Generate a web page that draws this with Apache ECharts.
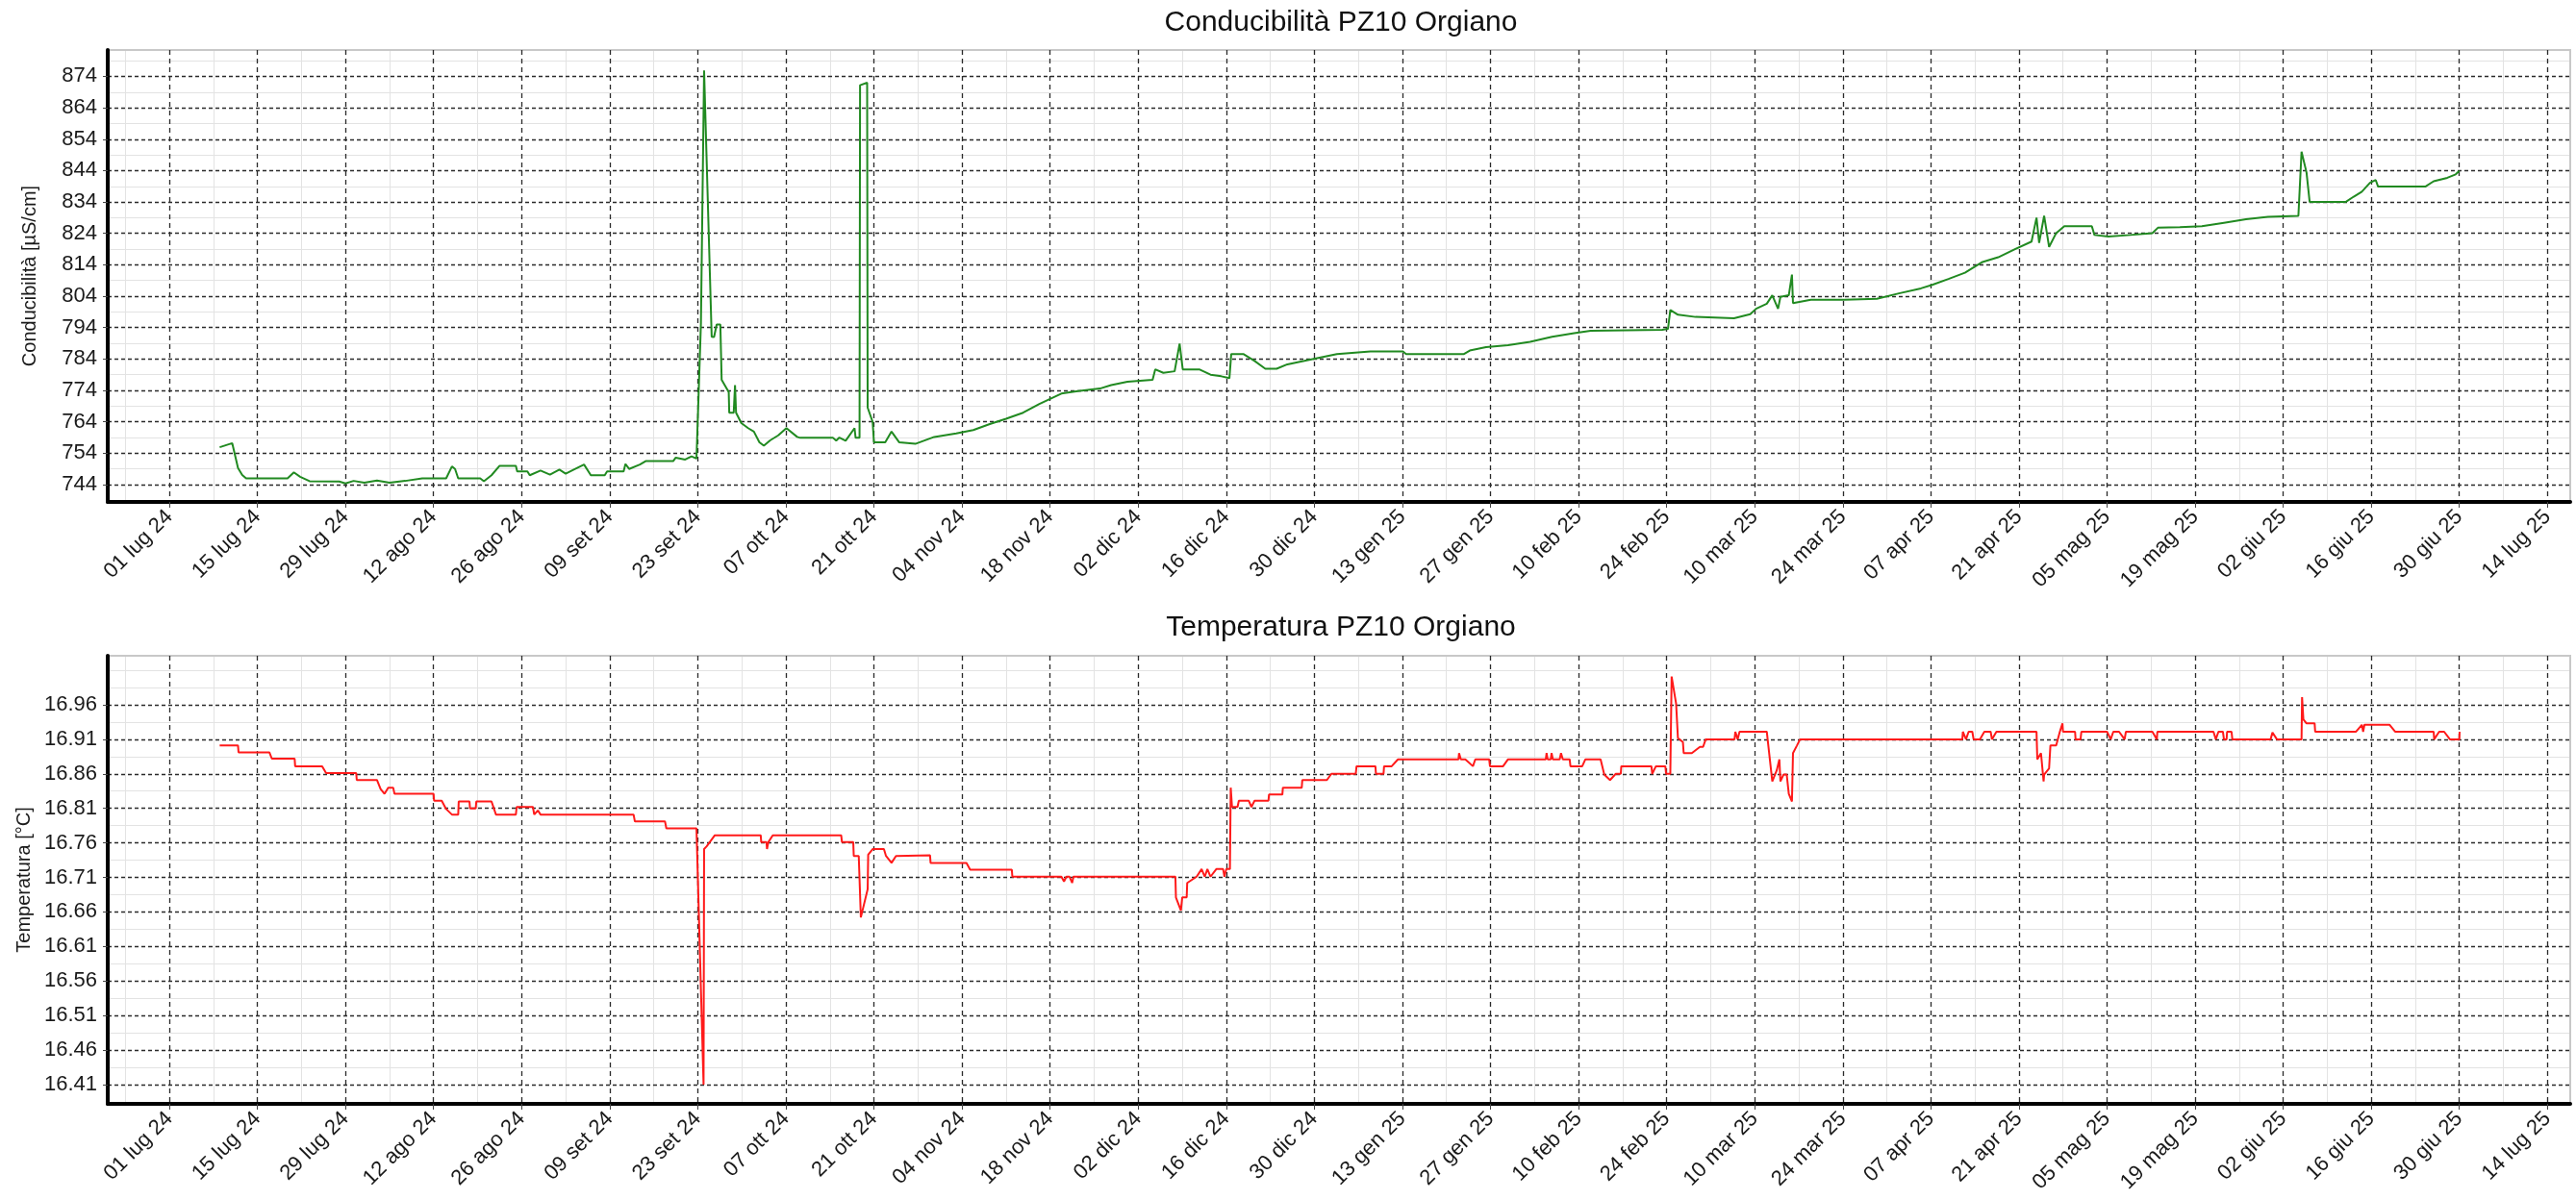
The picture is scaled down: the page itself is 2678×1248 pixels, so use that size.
<!DOCTYPE html>
<html>
<head>
<meta charset="utf-8">
<script src="https://cdn.jsdelivr.net/npm/echarts@6/dist/echarts.min.js"></script>
<style>
  html, body { margin: 0; padding: 0; background: #ffffff; }
  #chart { width: 2678px; height: 1248px; }
</style>
</head>
<body>
<div id="chart"></div>
<script>
// Conductivity readings, PZ10 Orgiano (µS/cm)
const condDates = [
  '2024-07-09 00:00','2024-07-11 00:00','2024-07-11 22:00','2024-07-12 14:00','2024-07-13 05:00','2024-07-19 19:00','2024-07-20 19:00','2024-07-21 19:00','2024-07-23 07:00','2024-07-28 00:00',
  '2024-07-29 00:00','2024-07-30 07:00','2024-08-01 00:00','2024-08-03 00:00','2024-08-05 00:00','2024-08-07 12:00','2024-08-10 05:00','2024-08-14 00:00','2024-08-14 22:00','2024-08-15 10:00',
  '2024-08-15 22:00','2024-08-19 10:00','2024-08-20 00:00','2024-08-21 05:00','2024-08-22 12:00','2024-08-25 02:00','2024-08-25 07:00','2024-08-26 22:00','2024-08-27 07:00','2024-08-29 00:00',
  '2024-08-30 12:00','2024-09-01 00:00','2024-09-02 00:00','2024-09-03 07:00','2024-09-04 22:00','2024-09-06 00:00','2024-09-08 05:00','2024-09-08 14:00','2024-09-11 05:00','2024-09-11 12:00',
  '2024-09-12 02:00','2024-09-13 19:00','2024-09-14 17:00','2024-09-19 02:00','2024-09-19 12:00','2024-09-21 00:00','2024-09-22 00:00','2024-09-22 19:00','2024-09-23 12:00','2024-09-24 00:00',
  '2024-09-25 05:00','2024-09-25 14:00','2024-09-26 00:00','2024-09-26 14:00','2024-09-26 19:00','2024-09-27 22:00','2024-09-28 00:00','2024-09-28 17:00','2024-09-28 22:00','2024-09-29 02:00',
  '2024-09-29 22:00','2024-10-01 00:00','2024-10-01 22:00','2024-10-02 19:00','2024-10-03 12:00','2024-10-04 12:00','2024-10-05 19:00','2024-10-07 02:00','2024-10-08 19:00','2024-10-09 07:00',
  '2024-10-14 12:00','2024-10-15 00:00','2024-10-15 12:00','2024-10-16 12:00','2024-10-17 22:00','2024-10-18 02:00','2024-10-18 17:00','2024-10-18 19:00','2024-10-19 22:00','2024-10-20 00:00',
  '2024-10-20 19:00','2024-10-21 00:00','2024-10-22 19:00','2024-10-23 19:00','2024-10-25 00:00','2024-10-27 14:00','2024-10-30 14:00','2024-11-03 02:00','2024-11-05 19:00','2024-11-08 10:00',
  '2024-11-11 00:00','2024-11-13 17:00','2024-11-16 07:00','2024-11-18 00:00','2024-11-19 19:00','2024-11-22 10:00','2024-11-25 22:00','2024-11-27 17:00','2024-11-30 07:00','2024-12-04 07:00',
  '2024-12-04 17:00','2024-12-06 00:00','2024-12-07 19:00','2024-12-08 14:00','2024-12-09 02:00','2024-12-11 17:00','2024-12-13 12:00','2024-12-15 05:00','2024-12-16 12:00','2024-12-16 19:00',
  '2024-12-18 17:00','2024-12-20 12:00','2024-12-22 05:00','2024-12-24 00:00','2024-12-25 17:00','2024-12-28 10:00','2024-12-31 00:00','2025-01-02 14:00','2025-01-07 22:00','2025-01-13 02:00',
  '2025-01-13 14:00','2025-01-22 19:00','2025-01-23 17:00','2025-01-26 07:00','2025-01-29 19:00','2025-02-02 07:00','2025-02-05 19:00','2025-02-09 07:00','2025-02-11 22:00','2025-02-23 07:00',
  '2025-02-24 05:00','2025-02-24 14:00','2025-02-25 19:00','2025-02-28 14:00','2025-03-06 17:00','2025-03-09 07:00','2025-03-10 05:00','2025-03-11 22:00','2025-03-12 19:00','2025-03-13 17:00',
  '2025-03-14 02:00','2025-03-15 10:00','2025-03-15 22:00','2025-03-16 02:00','2025-03-18 22:00','2025-03-24 05:00','2025-03-29 10:00','2025-04-01 22:00','2025-04-05 10:00','2025-04-07 05:00',
  '2025-04-09 19:00','2025-04-12 10:00','2025-04-15 02:00','2025-04-17 17:00','2025-04-20 07:00','2025-04-23 00:00','2025-04-23 19:00','2025-04-24 05:00','2025-04-25 00:00','2025-04-25 19:00',
  '2025-04-26 22:00','2025-04-28 05:00','2025-05-02 14:00','2025-05-03 00:00','2025-05-05 05:00','2025-05-08 17:00','2025-05-12 05:00','2025-05-13 02:00','2025-05-16 14:00','2025-05-20 02:00',
  '2025-05-23 14:00','2025-05-27 02:00','2025-05-30 14:00','2025-06-04 10:00','2025-06-04 22:00','2025-06-05 17:00','2025-06-06 05:00','2025-06-11 22:00','2025-06-13 05:00','2025-06-14 12:00',
  '2025-06-15 19:00','2025-06-16 17:00','2025-06-17 02:00','2025-06-24 14:00','2025-06-25 22:00','2025-06-28 02:00','2025-06-29 10:00','2025-06-30 00:00'
];
const condValues = [
  755.9,757.2,749.3,747.1,746.0,746.0,747.9,746.5,745.1,745.0,
  744.4,745.2,744.6,745.3,744.6,745.2,746.0,746.0,749.8,749.0,
  746.0,746.0,745.1,747.0,750.0,750.0,748.2,748.2,747.0,748.5,
  747.2,748.8,747.5,748.8,750.4,747.0,747.0,748.2,748.2,750.6,
  749.0,750.4,751.5,751.5,752.6,752.0,753.0,752.3,795.5,875.9,
  791.1,791.0,795.0,795.0,777.4,773.5,766.9,766.9,775.7,766.9,
  763.6,762.0,760.9,757.5,756.4,758.1,759.7,762.0,759.2,758.9,
  758.9,758.0,759.0,758.0,762.0,758.9,758.9,871.2,872.0,768.5,
  764.0,757.5,757.5,760.9,757.5,757.0,759.2,760.3,761.4,763.3,
  765.0,766.9,769.7,771.3,773.0,773.8,774.6,775.7,776.8,777.4,
  780.7,779.6,780.1,788.9,780.7,780.7,779.0,778.5,777.9,785.6,
  785.6,783.4,780.9,780.9,782.3,783.4,784.5,785.6,786.4,786.4,
  785.6,785.6,786.7,787.8,788.4,789.5,791.1,792.2,793.0,793.3,
  793.6,799.6,798.1,797.4,797.0,798.3,800.0,801.6,804.3,800.0,
  803.8,804.3,810.9,801.8,802.9,802.9,803.2,804.9,806.5,807.6,
  809.5,811.5,814.8,816.4,818.9,821.4,829.0,821.0,829.6,819.7,
  824.1,826.3,826.3,823.5,823.0,823.5,824.1,825.8,826.0,826.3,
  827.4,828.5,829.3,829.6,850.0,843.4,834.0,834.0,835.7,837.3,
  840.1,841.0,838.9,838.9,840.6,841.7,842.8,843.9
];

// Temperature readings, PZ10 Orgiano (°C)
const tempDates = [
  '2024-07-09 00:00','2024-07-11 22:00','2024-07-12 00:00','2024-07-16 22:00','2024-07-17 07:00','2024-07-20 22:00','2024-07-21 00:00','2024-07-25 07:00','2024-07-25 22:00','2024-07-30 17:00',
  '2024-07-30 19:00','2024-08-03 00:00','2024-08-03 14:00','2024-08-04 05:00','2024-08-04 19:00','2024-08-05 14:00','2024-08-05 19:00','2024-08-12 00:00','2024-08-12 02:00','2024-08-13 07:00',
  '2024-08-14 00:00','2024-08-14 22:00','2024-08-15 22:00','2024-08-16 00:00','2024-08-17 17:00','2024-08-17 19:00','2024-08-18 17:00','2024-08-18 19:00','2024-08-21 05:00','2024-08-21 22:00',
  '2024-08-25 02:00','2024-08-25 05:00','2024-08-27 19:00','2024-08-28 00:00','2024-08-28 14:00','2024-08-29 00:00','2024-09-12 19:00','2024-09-13 00:00','2024-09-17 19:00','2024-09-18 00:00',
  '2024-09-22 19:00','2024-09-23 22:00','2024-09-24 00:00','2024-09-24 10:00','2024-09-25 17:00','2024-10-03 00:00','2024-10-03 02:00','2024-10-03 22:00','2024-10-04 00:00','2024-10-04 05:00',
  '2024-10-04 22:00','2024-10-15 19:00','2024-10-15 22:00','2024-10-17 17:00','2024-10-17 19:00','2024-10-18 14:00','2024-10-18 22:00','2024-10-20 00:00','2024-10-20 02:00','2024-10-20 19:00',
  '2024-10-22 14:00','2024-10-22 22:00','2024-10-23 19:00','2024-10-24 12:00','2024-10-29 22:00','2024-10-30 00:00','2024-11-04 17:00','2024-11-05 07:00','2024-11-11 22:00','2024-11-12 00:00',
  '2024-11-19 19:00','2024-11-20 05:00','2024-11-20 14:00','2024-11-21 02:00','2024-11-21 12:00','2024-11-21 17:00','2024-12-07 22:00','2024-12-08 00:00','2024-12-08 19:00','2024-12-09 00:00',
  '2024-12-09 17:00','2024-12-09 19:00','2024-12-11 07:00','2024-12-12 02:00','2024-12-12 14:00','2024-12-13 00:00','2024-12-13 12:00','2024-12-14 10:00','2024-12-15 12:00','2024-12-15 17:00',
  '2024-12-16 00:00','2024-12-16 14:00','2024-12-16 17:00','2024-12-16 22:00','2024-12-17 19:00','2024-12-18 00:00','2024-12-19 14:00','2024-12-20 00:00','2024-12-20 12:00','2024-12-22 17:00',
  '2024-12-22 19:00','2024-12-24 22:00','2024-12-25 00:00','2024-12-28 00:00','2024-12-28 02:00','2025-01-01 00:00','2025-01-01 17:00','2025-01-05 14:00','2025-01-05 17:00','2025-01-08 17:00',
  '2025-01-08 19:00','2025-01-10 00:00','2025-01-10 02:00','2025-01-11 07:00','2025-01-12 07:00','2025-01-21 22:00','2025-01-22 00:00','2025-01-22 07:00','2025-01-23 00:00','2025-01-24 05:00',
  '2025-01-24 14:00','2025-01-26 19:00','2025-01-26 22:00','2025-01-29 00:00','2025-01-29 19:00','2025-02-04 19:00','2025-02-04 22:00','2025-02-05 02:00','2025-02-05 14:00','2025-02-05 17:00',
  '2025-02-05 22:00','2025-02-07 00:00','2025-02-07 05:00','2025-02-07 12:00','2025-02-08 14:00','2025-02-08 17:00','2025-02-10 14:00','2025-02-11 02:00','2025-02-13 12:00','2025-02-14 02:00',
  '2025-02-15 00:00','2025-02-15 22:00','2025-02-16 17:00','2025-02-16 19:00','2025-02-21 14:00','2025-02-21 17:00','2025-02-22 07:00','2025-02-23 19:00','2025-02-23 22:00','2025-02-24 14:00',
  '2025-02-24 19:00','2025-02-25 12:00','2025-02-25 19:00','2025-02-26 14:00','2025-02-26 17:00','2025-02-28 00:00','2025-03-01 07:00','2025-03-01 19:00','2025-03-02 05:00','2025-03-06 19:00',
  '2025-03-06 22:00','2025-03-07 07:00','2025-03-07 14:00','2025-03-11 22:00','2025-03-12 19:00','2025-03-13 12:00','2025-03-13 22:00','2025-03-14 02:00','2025-03-14 14:00','2025-03-15 02:00',
  '2025-03-15 10:00','2025-03-15 22:00','2025-03-16 02:00','2025-03-16 17:00','2025-03-17 05:00','2025-04-12 00:00','2025-04-12 02:00','2025-04-12 14:00','2025-04-13 00:00','2025-04-13 14:00',
  '2025-04-13 19:00','2025-04-14 19:00','2025-04-15 12:00','2025-04-16 12:00','2025-04-16 17:00','2025-04-17 10:00','2025-04-23 19:00','2025-04-23 22:00','2025-04-24 12:00','2025-04-24 22:00',
  '2025-04-25 00:00','2025-04-25 19:00','2025-04-26 00:00','2025-04-26 22:00','2025-04-27 12:00','2025-04-27 22:00','2025-04-28 00:00','2025-04-29 22:00','2025-04-30 00:00','2025-04-30 19:00',
  '2025-04-30 22:00','2025-05-05 00:00','2025-05-05 14:00','2025-05-06 00:00','2025-05-06 22:00','2025-05-07 19:00','2025-05-08 00:00','2025-05-12 05:00','2025-05-12 22:00','2025-05-13 00:00',
  '2025-05-21 22:00','2025-05-22 07:00','2025-05-22 17:00','2025-05-23 10:00','2025-05-23 14:00','2025-05-24 00:00','2025-05-24 02:00','2025-05-24 19:00','2025-05-24 22:00','2025-05-31 00:00',
  '2025-05-31 07:00','2025-06-01 00:00','2025-06-04 22:00','2025-06-05 00:00','2025-06-05 05:00','2025-06-05 17:00','2025-06-07 00:00','2025-06-07 02:00','2025-06-13 14:00','2025-06-14 12:00',
  '2025-06-14 17:00','2025-06-14 22:00','2025-06-18 22:00','2025-06-19 19:00','2025-06-25 22:00','2025-06-26 00:00','2025-06-26 19:00','2025-06-27 14:00','2025-06-28 12:00','2025-06-30 00:00',
  '2025-06-30 01:00'
];
const tempValues = [
  16.901,16.901,16.891,16.891,16.882,16.882,16.871,16.871,16.861,16.861,
  16.851,16.851,16.838,16.831,16.840,16.840,16.831,16.831,16.821,16.821,
  16.809,16.801,16.801,16.820,16.820,16.810,16.810,16.820,16.820,16.801,
  16.801,16.812,16.812,16.801,16.807,16.801,16.801,16.791,16.791,16.781,
  16.781,16.410,16.751,16.755,16.771,16.771,16.761,16.761,16.751,16.761,
  16.771,16.771,16.761,16.761,16.741,16.741,16.652,16.693,16.743,16.751,
  16.751,16.741,16.731,16.741,16.742,16.731,16.731,16.721,16.721,16.711,
  16.711,16.704,16.711,16.711,16.702,16.711,16.711,16.681,16.662,16.681,
  16.681,16.702,16.711,16.722,16.711,16.722,16.711,16.722,16.722,16.711,
  16.722,16.722,16.840,16.812,16.812,16.821,16.821,16.812,16.821,16.821,
  16.830,16.830,16.840,16.840,16.851,16.851,16.860,16.860,16.871,16.871,
  16.860,16.860,16.871,16.871,16.881,16.881,16.890,16.881,16.881,16.871,
  16.881,16.881,16.871,16.871,16.881,16.881,16.890,16.881,16.881,16.890,
  16.881,16.881,16.890,16.881,16.881,16.871,16.871,16.881,16.881,16.859,
  16.851,16.860,16.860,16.871,16.871,16.860,16.871,16.871,16.860,16.860,
  17.001,16.962,16.912,16.906,16.890,16.890,16.899,16.899,16.910,16.910,
  16.921,16.910,16.921,16.921,16.849,16.865,16.881,16.849,16.859,16.859,
  16.831,16.820,16.890,16.901,16.910,16.910,16.921,16.910,16.921,16.921,
  16.910,16.910,16.921,16.921,16.910,16.921,16.921,16.881,16.890,16.849,
  16.859,16.868,16.901,16.901,16.921,16.933,16.921,16.921,16.910,16.910,
  16.921,16.921,16.910,16.921,16.921,16.910,16.921,16.921,16.910,16.921,
  16.921,16.910,16.921,16.921,16.910,16.910,16.921,16.921,16.910,16.910,
  16.920,16.910,16.910,16.971,16.939,16.933,16.933,16.921,16.921,16.931,
  16.921,16.931,16.931,16.921,16.921,16.910,16.921,16.921,16.910,16.910,
  16.921
];

// Axis ticks
const dateTicks = [
  '2024-07-01','2024-07-15','2024-07-29','2024-08-12','2024-08-26','2024-09-09','2024-09-23',
  '2024-10-07','2024-10-21','2024-11-04','2024-11-18','2024-12-02','2024-12-16','2024-12-30',
  '2025-01-13','2025-01-27','2025-02-10','2025-02-24','2025-03-10','2025-03-24','2025-04-07',
  '2025-04-21','2025-05-05','2025-05-19','2025-06-02','2025-06-16','2025-06-30','2025-07-14'
];
const dateMinorTicks = [
  '2024-06-24','2024-07-08','2024-07-22','2024-08-05','2024-08-19','2024-09-02','2024-09-16',
  '2024-09-30','2024-10-14','2024-10-28','2024-11-11','2024-11-25','2024-12-09','2024-12-23',
  '2025-01-06','2025-01-20','2025-02-03','2025-02-17','2025-03-03','2025-03-17','2025-03-31',
  '2025-04-14','2025-04-28','2025-05-12','2025-05-26','2025-06-09','2025-06-23','2025-07-07'
];
const monthNames = ['gen','feb','mar','apr','mag','giu','lug','ago','set','ott','nov','dic'];
const condTicks = [744,754,764,774,784,794,804,814,824,834,844,854,864,874];
const condMinorTicks = [739,749,759,769,779,789,799,809,819,829,839,849,859,869,879];
const tempTicks = [16.41,16.46,16.51,16.56,16.61,16.66,16.71,16.76,16.81,16.86,16.91,16.96];
const tempMinorTicks = [16.435,16.485,16.535,16.585,16.635,16.685,16.735,16.785,16.835,16.885,16.935,16.985,17.01];

const FONT = '"Liberation Sans", Arial, Helvetica, sans-serif';

// 'YYYY-MM-DD HH:mm' -> epoch milliseconds (local time)
function toTime(s) {
  const parts = s.split(' ');
  const ymd = parts[0].split('-').map(Number);
  const hm = (parts[1] || '00:00').split(':').map(Number);
  return new Date(ymd[0], ymd[1] - 1, ymd[2], hm[0], hm[1]).getTime();
}
function fmtDate(v) {
  const d = new Date(v);
  const dd = String(d.getDate()).padStart(2, '0');
  return dd + ' ' + monthNames[d.getMonth()] + ' ' + String(d.getFullYear()).slice(2);
}

const xMin = toTime('2024-06-21 05:00');
const xMax = toTime('2025-07-17 15:00');
const majorX = dateTicks.map(toTime);
const minorX = dateMinorTicks.map(toTime);

const condData = condDates.map((d, i) => [toTime(d), condValues[i]]);
const tempData = tempDates.map((d, i) => [toTime(d), tempValues[i]]);

const TEXT = '#1a1a1a';
const GRID_MAJOR = '#2a2a2a';
const GRID_MINOR = '#e3e3e3';

function xAxesFor(gridIndex) {
  return [
    { // light weekly grid
      type: 'value', gridIndex, min: xMin, max: xMax, position: 'bottom', z: -1,
      axisLine: { show: false },
      axisTick: { show: false, customValues: minorX },
      axisLabel: { show: false, customValues: minorX },
      splitLine: { show: true, lineStyle: { color: GRID_MINOR, width: 1, type: 'solid' } }
    },
    { // fortnightly dashed grid with date labels
      type: 'value', gridIndex, min: xMin, max: xMax, position: 'bottom',
      axisLine: { show: true, onZero: false, lineStyle: { color: '#000', width: 4 } },
      axisTick: { show: true, customValues: majorX, length: 6, lineStyle: { color: '#444', width: 1 } },
      axisLabel: {
        customValues: majorX, rotate: 45, margin: 12, fontSize: 22, color: TEXT,
        fontFamily: FONT, formatter: fmtDate, hideOverlap: false
      },
      splitLine: { show: true, lineStyle: { color: GRID_MAJOR, width: 1.3, type: [5, 4] } },
      minorTick: { show: false }, minorSplitLine: { show: false }
    }
  ];
}

function yAxesFor(gridIndex, min, max, ticks, minorTicks, name, fmt) {
  return [
    {
      type: 'value', gridIndex, min, max, position: 'left', z: -1,
      axisLine: { show: false },
      axisTick: { show: false, customValues: minorTicks },
      axisLabel: { show: false, customValues: minorTicks },
      splitLine: { show: true, lineStyle: { color: GRID_MINOR, width: 1, type: 'solid' } }
    },
    {
      type: 'value', gridIndex, min, max, position: 'left',
      axisLine: { show: true, onZero: false, lineStyle: { color: '#000', width: 4 } },
      axisTick: { show: true, customValues: ticks, length: 5, lineStyle: { color: '#444', width: 1 } },
      axisLabel: { customValues: ticks, margin: 11, fontSize: 22, color: TEXT, fontFamily: FONT, formatter: fmt },
      splitLine: { show: true, lineStyle: { color: GRID_MAJOR, width: 1.3, type: [4, 3] } },
      name, nameLocation: 'middle', nameGap: 71,
      nameTextStyle: { fontSize: 20, color: TEXT, fontFamily: FONT }
    }
  ];
}

const gridBase = { left: 112, right: 6, show: true, borderColor: '#c8c8c8', borderWidth: 2, outerBoundsMode: 'none', containLabel: false };
const titleStyle = { fontSize: 30, fontWeight: 'normal', color: '#111', fontFamily: FONT };

const option = {
  animation: false,
  backgroundColor: '#ffffff',
  title: [
    { text: 'Conducibilità PZ10 Orgiano', left: 1394, top: 9, textAlign: 'center', padding: 0, textStyle: titleStyle },
    { text: 'Temperatura PZ10 Orgiano', left: 1394, top: 638, textAlign: 'center', padding: 0, textStyle: titleStyle }
  ],
  grid: [
    Object.assign({ top: 52, height: 470 }, gridBase),
    Object.assign({ top: 682, height: 466 }, gridBase)
  ],
  xAxis: [].concat(xAxesFor(0), xAxesFor(1)),
  yAxis: [].concat(
    yAxesFor(0, 738.5, 882.4, condTicks, condMinorTicks, 'Conducibilità [µS/cm]', v => String(v)),
    yAxesFor(1, 16.382, 17.031, tempTicks, tempMinorTicks, 'Temperatura [°C]', v => v.toFixed(2))
  ),
  series: [
    {
      name: 'Conducibilità', type: 'line', xAxisIndex: 1, yAxisIndex: 1,
      data: condData, showSymbol: false, symbol: 'none', silent: true,
      lineStyle: { color: '#218a21', width: 2 }
    },
    {
      name: 'Temperatura', type: 'line', xAxisIndex: 3, yAxisIndex: 3,
      data: tempData, showSymbol: false, symbol: 'none', silent: true,
      lineStyle: { color: '#ff1a1a', width: 2 }
    }
  ]
};

const chart = echarts.init(document.getElementById('chart'), null, { renderer: 'canvas' });
chart.setOption(option);
</script>
</body>
</html>
